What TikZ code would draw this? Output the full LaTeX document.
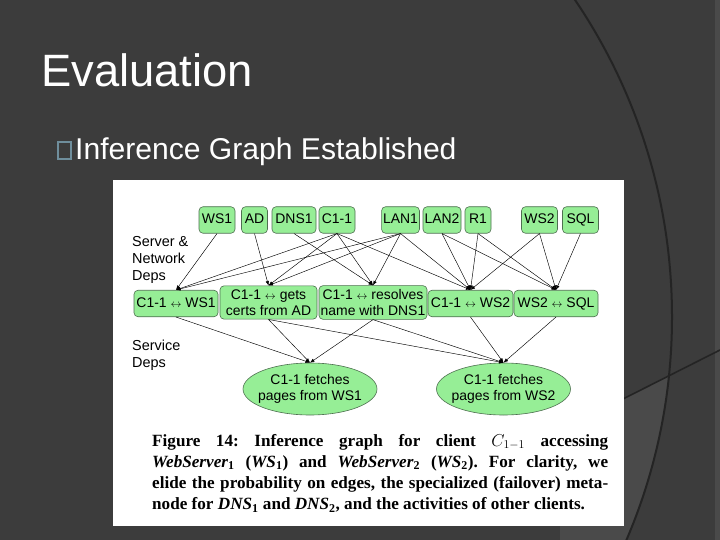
\documentclass[tikz,border=0pt]{standalone}
\usepackage{fontspec}
\setmainfont{Liberation Sans}
\newfontfamily\capfont{Liberation Serif}
\usetikzlibrary{arrows.meta,shapes.geometric}

\definecolor{slidebg}{HTML}{3C3C3C}
\definecolor{arcgray}{HTML}{242424}
\definecolor{lightpanel}{HTML}{4A4A4A}
\definecolor{bulletblue}{HTML}{6F8E9C}
\definecolor{depgreen}{HTML}{96EE96}
\definecolor{depedge}{HTML}{4E7050}
\newcommand{\lra}{{\fontsize{10.5}{10.5}\selectfont$\leftrightarrow$}}

\begin{document}
\frenchspacing
\begin{tikzpicture}[x=1bp, y=-1bp,
  depbase/.style={draw=depedge, fill=depgreen, rounded corners=4bp, line width=0.6bp,
    font=\fontsize{14}{15.5}\selectfont, align=center, inner xsep=1.5bp, inner ysep=4bp,
    minimum height=26.5bp},
  dep/.style={depbase, text height=10bp, text depth=2.8bp},
  fetch/.style={depbase, ellipse, rounded corners=0pt, inner xsep=-7bp, inner ysep=0bp,
    minimum width=134bp, minimum height=52bp},
  lbl/.style={font=\fontsize{14.5}{17}\selectfont, align=left, anchor=north west, inner sep=0pt},
  link/.style={draw, -{Latex[length=4.5bp,width=3.5bp]}, line width=0.45bp}]
  \useasboundingbox (0,0) rectangle (720,540);
  % slide background
  \fill[slidebg] (0,0) rectangle (720,540);
  \fill[lightpanel] (715,0) rectangle (720,540);
  \begin{scope}
    \clip (105.5,317) circle (566.5);
    \fill[lightpanel] (560,430.8) -- (720,350) -- (720,540) -- (560,540) -- cycle;
  \end{scope}
  \draw[arcgray, line width=1.6bp] (560,430.8) -- (720,350);
  \draw[arcgray, line width=2bp] (105.5,317) circle (566.5);
  \node[anchor=base west, inner sep=0pt, text=white, font=\fontsize{45.5}{45.5}\selectfont] (title) at (41,87) {Evaluation};
  \draw[bulletblue, line width=1.5bp] (58,142) rectangle (71,159);
  \node[anchor=base west, inner sep=0pt, text=white, font=\fontsize{30.2}{30.2}\selectfont] (bullet) at (75,160) {Inference Graph Established};
  % figure
  \fill[white] (113,180) rectangle (624,526);
  \node[lbl] (netdeps) at (132,236) {Server \&\\Network\\Deps};
  \node[lbl] (svcdeps) at (132,340) {Service\\Deps};

  \node[dep, minimum width=36bp] (ws1) at (217,220) {WS1};
  \node[dep, minimum width=26bp] (ad) at (254.5,220) {AD};
  \node[dep, minimum width=44bp] (dns1) at (294,220) {DNS1};
  \node[dep, minimum width=36bp] (c11) at (337,220) {C1-1};
  \node[dep, minimum width=36bp] (lan1) at (400.5,220) {LAN1};
  \node[dep, minimum width=38bp] (lan2) at (442,220) {LAN2};
  \node[dep, minimum width=26bp] (r1) at (478,220) {R1};
  \node[dep, minimum width=36bp] (ws2) at (539.5,220) {WS2};
  \node[dep, minimum width=36bp] (sql) at (580.5,220) {SQL};

  \node[dep, minimum width=84bp] (cws1) at (176,303.5) {C1-1 \lra{} WS1};
  \node[depbase, minimum width=97bp] (certs) at (268.5,302.5) {C1-1 \lra{} gets\\certs from AD};
  \node[depbase, minimum width=108bp] (resolve) at (373,302.5) {C1-1 \lra{} resolves\\name with DNS1};
  \node[dep, minimum width=85bp] (cws2) at (470.5,303.5) {C1-1 \lra{} WS2};
  \node[dep, minimum width=84bp] (wsql) at (556,303.5) {WS2 \lra{} SQL};

  \node[fetch] (fetch1) at (310,389) {C1-1 fetches\\pages from WS1};
  \node[fetch] (fetch2) at (503.5,389) {C1-1 fetches\\pages from WS2};

  \path (ws1.south) edge[link] (cws1.north);
  \path (ad.south) edge[link] (certs.north);
  \path (dns1.south) edge[link] (resolve.north);
  \path (c11.south) edge[link] (cws1.north) edge[link] (certs.north) edge[link] (resolve.north) edge[link] (cws2.north);
  \path (lan1.south) edge[link] (cws1.north) edge[link] (certs.north) edge[link] (resolve.north) edge[link] (cws2.north);
  \path (lan2.south) edge[link] (cws2.north) edge[link] (wsql.north);
  \path (r1.south) edge[link] (cws2.north) edge[link] (wsql.north);
  \path (ws2.south) edge[link] (cws2.north) edge[link] (wsql.north);
  \path (sql.south) edge[link] (wsql.north);

  \path (cws1.south) edge[link] (fetch1.north);
  \path (certs.south) edge[link] (fetch1.north) edge[link] (fetch2.north);
  \path (resolve.south) edge[link] (fetch1.north) edge[link] (fetch2.north);
  \path (cws2.south) edge[link] (fetch2.north);
  \path (wsql.south) edge[link] (fetch2.north);

  \node[anchor=base west, inner sep=0pt, text width=456bp, align=justify,
    font=\capfont\bfseries\fontsize{17.2}{21.3}\selectfont] (caption) at (152,446)
    {Figure 14: Inference graph for client $C_{1-1}$ accessing\linebreak
     \textit{WebServer}\textsubscript{1} (\textit{WS}\textsubscript{1}) and \textit{WebServer}\textsubscript{2} (\textit{WS}\textsubscript{2}). For clarity, we\linebreak
     elide the probability on edges, the specialized (failover) meta-\linebreak
     node for \textit{DNS}\textsubscript{1} and \textit{DNS}\textsubscript{2}, and the activities of other clients.};
\end{tikzpicture}
\end{document}
